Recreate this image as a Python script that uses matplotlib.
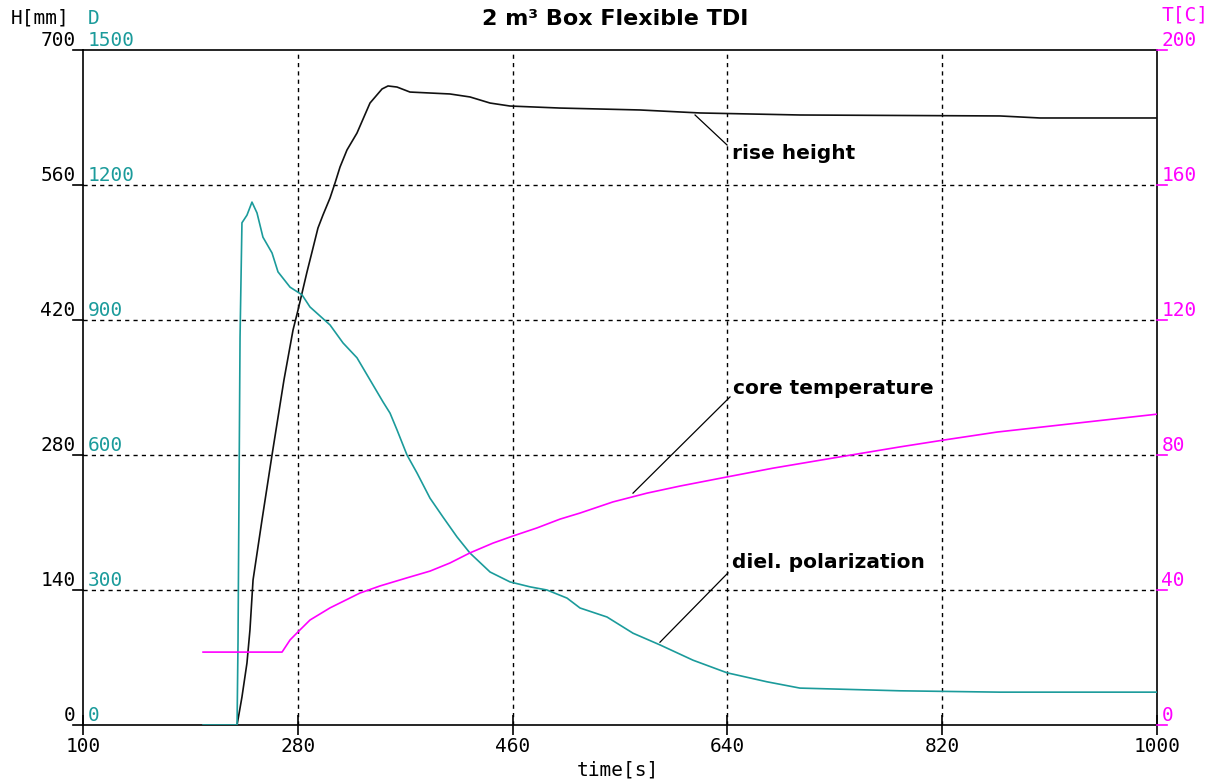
import matplotlib
matplotlib.use("Agg")
import matplotlib.pyplot as plt
import matplotlib.transforms as mtransforms

# ---- data ----
h_time = [229.1, 233.2, 237.4, 239.9, 242.5, 250.0, 258.4, 268.4, 276.0, 280.2, 287.7, 291.9, 296.9,
          301.1, 307.0, 311.2, 315.4, 321.2, 329.6, 340.5, 350.6, 355.6, 363.1, 374.0, 407.5, 424.3,
          441.1, 457.8, 499.7, 566.8, 617.0, 700.8, 868.4, 902.0, 1000]
h_val = [0, 29, 64.3, 98.5, 150.4, 212.6, 280, 357.8, 409.6, 430.4, 469.8, 490.5, 515.4,
         528.9, 546.5, 562.1, 578.7, 596.3, 613.9, 645.0, 659.6, 662.7, 661.6, 656.4, 654.4, 651.3,
         645.0, 641.9, 639.8, 637.8, 634.7, 632.6, 631.6, 629.5, 629.5]

d_time = [200.6, 229.1, 229.9, 231.6, 233.2, 237.4, 241.6, 245.8, 250.8, 258.4, 263.4, 273.5, 283.5,
          290.2, 307.0, 317.9, 329.6, 340.5, 351.4, 357.3, 363.1, 371.5, 379.9, 390.8, 401.7, 413.4,
          424.3, 441.1, 457.8, 474.6, 488.8, 505.6, 516.5, 539.1, 560.9, 583.5, 611.2, 639.7, 673.2,
          700.8, 784.6, 868.4, 1000]
d_val = [0, 0, 184, 862, 1116, 1133, 1162, 1138, 1084, 1049, 1007, 973, 956,
         929, 889, 849, 816, 767, 718, 693, 656, 600, 560, 504, 462, 418,
         382, 340, 318, 307, 300, 282, 260, 240, 204, 178, 144, 116, 96,
         82, 76, 73, 73]

t_time = [200.6, 266.8, 273.5, 280.2, 290.2, 307.0, 332.1, 348.9, 371.5, 390.8, 407.5, 424.3, 443.6,
          460.3, 480.5, 499.7, 516.5, 544.1, 572.6, 600.3, 639.7, 678.2, 728.5, 784.6, 820.7, 866.0, 1000]
t_val = [21.6, 21.6, 25.2, 27.6, 31.1, 34.7, 39.1, 41.2, 43.6, 45.6, 48.0, 51.0, 53.9,
         56.0, 58.4, 61.0, 62.8, 66.1, 68.7, 70.8, 73.5, 76.1, 79.1, 82.4, 84.4, 86.8, 92.1]

x_ticks = [100, 280, 460, 640, 820, 1000]
h_ticks = [0, 140, 280, 420, 560, 700]
d_ticks = [0, 300, 600, 900, 1200, 1500]
t_ticks = [0, 40, 80, 120, 160, 200]

TEAL = "#1b9b9b"
MAG = "#ff00ff"
MONO = "DejaVu Sans Mono"

fig = plt.figure(figsize=(12.23, 7.83), dpi=100)
ax = fig.add_axes([83 / 1223, 58 / 783, 1074 / 1223, 675 / 783])
ax_d = ax.twinx()
ax_t = ax.twinx()

ax.set_xlim(100, 1000)
ax.set_ylim(0, 700)
ax_d.set_ylim(0, 1500)
ax_t.set_ylim(0, 200)

# grid
for xv in x_ticks[1:-1]:
    ax.axvline(xv, color="black", lw=1.0, ls=(0, (3, 3)), zorder=1)
for yv in h_ticks[1:-1]:
    ax.axhline(yv, color="black", lw=1.0, ls=(0, (3, 3)), zorder=1)

ax.plot(h_time, h_val, color="#111111", lw=1.2, zorder=3)
ax_d.plot(d_time, d_val, color=TEAL, lw=1.2, zorder=3)
ax_t.plot(t_time, t_val, color=MAG, lw=1.2, zorder=3)

for a in (ax_d, ax_t):
    a.set_yticks([])
    for s in a.spines.values():
        s.set_visible(False)
for s in ax.spines.values():
    s.set_color("black")
    s.set_linewidth(1.2)

ax.set_yticks([])
ax.set_xticks(x_ticks)
ax.set_xticklabels([str(v) for v in x_ticks], fontfamily=MONO, fontsize=14)
ax.tick_params(axis="x", direction="inout", length=14, width=1.2, pad=2)

# left ticks + labels
trans_l = mtransforms.blended_transform_factory(ax.transAxes, ax.transData)
for hv in h_ticks:
    ax.plot([-0.009, 0], [hv, hv], transform=trans_l, color="black", lw=1.2, clip_on=False)
    ax.text(-0.007, hv, str(hv), transform=trans_l, ha="right", va="bottom",
            fontfamily=MONO, fontsize=14, color="black")
trans_d = mtransforms.blended_transform_factory(ax_d.transAxes, ax_d.transData)
for dv in d_ticks:
    ax_d.text(0.004, dv, str(dv), transform=trans_d, ha="left", va="bottom",
              fontfamily=MONO, fontsize=14, color=TEAL)
trans_t = mtransforms.blended_transform_factory(ax_t.transAxes, ax_t.transData)
for tv in t_ticks:
    ax_t.plot([1.0, 1.009], [tv, tv], transform=trans_t, color=MAG, lw=1.2, clip_on=False)
    ax_t.text(1.004, tv, str(tv), transform=trans_t, ha="left", va="bottom",
              fontfamily=MONO, fontsize=14, color=MAG)

# axis titles
fig.text(11 / 1223, 1 - 18 / 783, "H[mm]", fontfamily=MONO, fontsize=14, color="black", va="center")
fig.text(88 / 1223, 1 - 18 / 783, "D", fontfamily=MONO, fontsize=14, color=TEAL, va="center")
fig.text(1162 / 1223, 1 - 15 / 783, "T[C]", fontfamily=MONO, fontsize=14, color=MAG, va="center")
fig.text(618 / 1223, 1 - 770 / 783, "time[s]", fontfamily=MONO, fontsize=14, color="black", ha="center", va="center")
fig.text(615 / 1223, 1 - 19 / 783, "2 m³ Box Flexible TDI", fontsize=16, fontweight="bold", ha="center", va="center")

# annotations (leader lines + labels)
ax.plot([612.9, 639.7], [632.6, 601.5], color="black", lw=0.9, zorder=4)
ax.text(644, 593, "rise height", fontsize=14.5, fontweight="bold", ha="left", va="center")
ax_t.plot([560.9, 642.2], [68.7, 97.2], color="black", lw=0.9, zorder=4)
ax_t.text(644.7, 99.6, "core temperature", fontsize=14.5, fontweight="bold", ha="left", va="center")
ax_d.plot([583.5, 640.5], [184, 338], color="black", lw=0.9, zorder=4)
ax_d.text(643.9, 360, "diel. polarization", fontsize=14.5, fontweight="bold", ha="left", va="center")

fig.savefig("out.png", dpi=100, facecolor="white")
